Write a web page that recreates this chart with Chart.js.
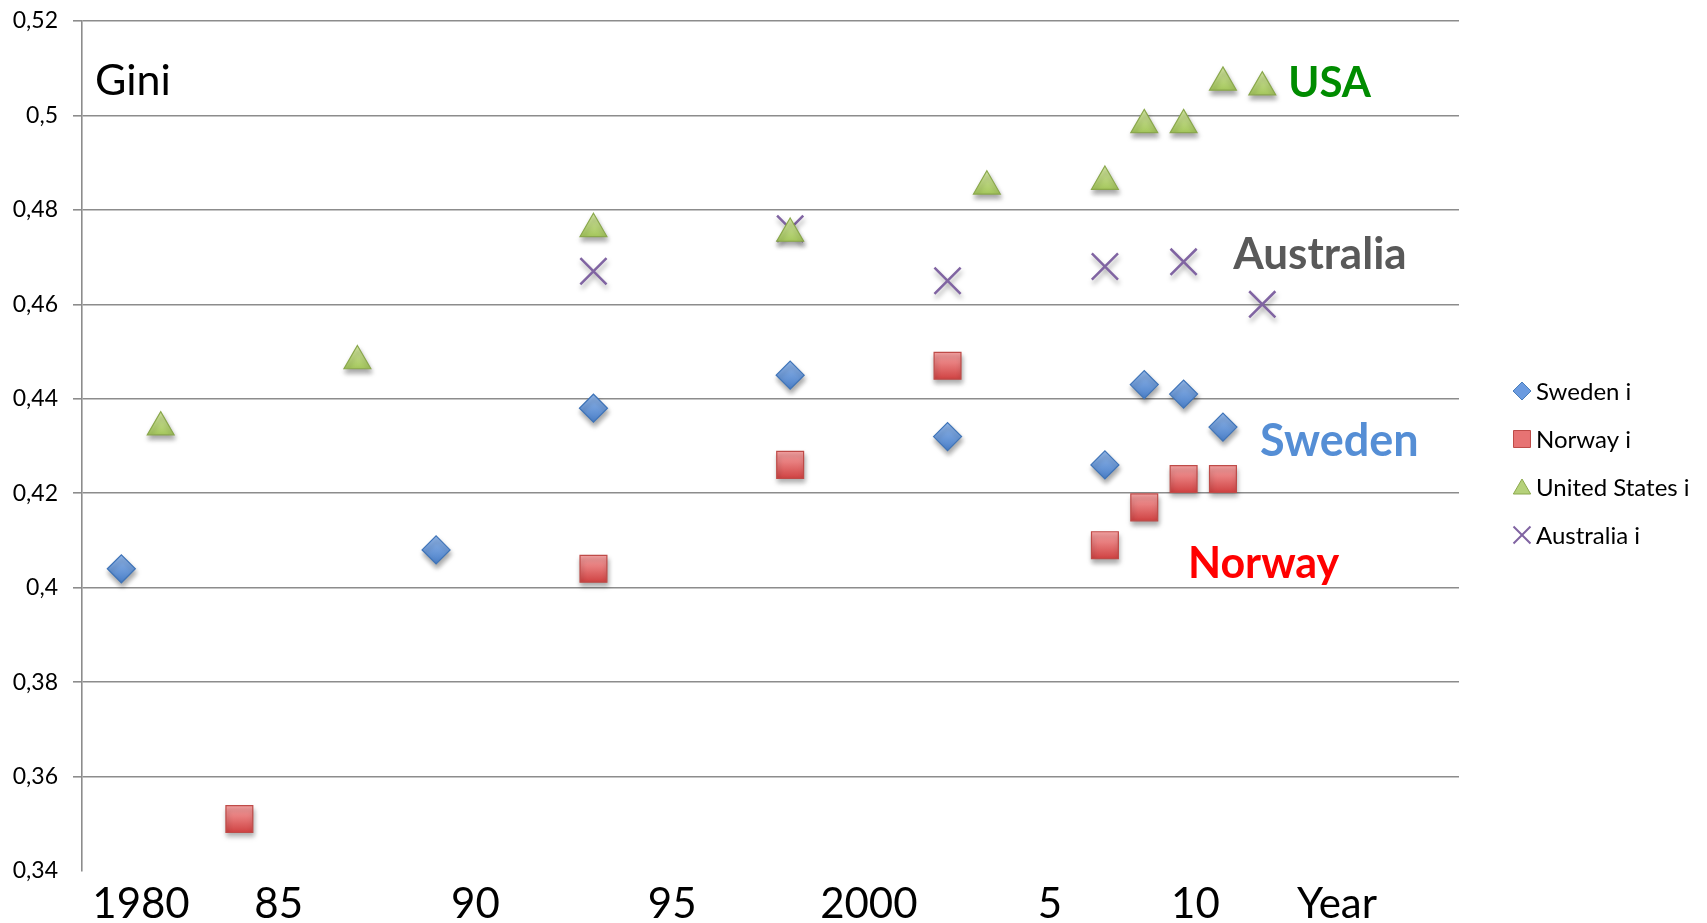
<!DOCTYPE html>
<html>
<head>
<meta charset="utf-8">
<title>Gini</title>
<script src="https://cdn.jsdelivr.net/npm/chart.js@4.4.1/dist/chart.umd.min.js"></script>
<style>
  html, body { margin: 0; padding: 0; background: #fff; }
  #wrap { width: 1707px; height: 923px; }
</style>
</head>
<body>
<div id="wrap"><canvas id="gini"></canvas></div>
<script>
// values
const swedenYears = [1981, 1989, 1993, 1998, 2002, 2006, 2007, 2008, 2009];
const swedenGini = [0.404, 0.408, 0.438, 0.445, 0.432, 0.426, 0.443, 0.441, 0.434];
const norwayYears = [1984, 1993, 1998, 2002, 2006, 2007, 2008, 2009];
const norwayGini = [0.351, 0.404, 0.426, 0.447, 0.409, 0.417, 0.423, 0.423];
const usaYears = [1982, 1987, 1993, 1998, 2003, 2006, 2007, 2008, 2009, 2010];
const usaGini = [0.434, 0.448, 0.476, 0.475, 0.485, 0.486, 0.498, 0.498, 0.507, 0.506];
const australiaYears = [1993, 1998, 2002, 2006, 2008, 2010];
const australiaGini = [0.467, 0.476, 0.465, 0.468, 0.469, 0.460];

const seriesNames = ['Sweden i', 'Norway i', 'United States i', 'Australia i'];

// x labels sit where the original text was put, not exactly on the years
const xTickYears = [1981.5, 1985, 1990, 1995, 2000, 2004.6, 2008.3, 2011.9];
const xTickLabels = ['1980', '85', '90', '95', '2000', '5', '10', 'Year'];
const yTickValues = [0.34, 0.36, 0.38, 0.40, 0.42, 0.44, 0.46, 0.48, 0.50, 0.52];
const yTickLabels = ['0,34', '0,36', '0,38', '0,4', '0,42', '0,44', '0,46', '0,48', '0,5', '0,52'];

Chart.defaults.font.family = 'Lato';
Chart.defaults.color = '#000';

function toPoints(xs, ys) {
  return xs.map((x, i) => ({ x: x, y: ys[i] }));
}

function markerFill(top, bottom, radius) {
  return function (ctx) {
    if (ctx.type !== 'data' || !ctx.parsed || !ctx.chart.scales.y) return bottom;
    const y = ctx.chart.scales.y.getPixelForValue(ctx.parsed.y);
    if (!isFinite(y)) return bottom;
    const g = ctx.chart.ctx.createLinearGradient(0, y - radius, 0, y + radius);
    g.addColorStop(0, top);
    g.addColorStop(1, bottom);
    return g;
  };
}

const annotations = [
  { text: 'Gini', x: 1980.33, y: 0.5043, color: '#000', font: '43px Lato' },
  { text: 'USA', x: 2010.66, y: 0.5039, color: '#008c00', font: 'bold 42px Lato' },
  { text: 'Australia', x: 2009.26, y: 0.4674, color: '#595959', font: 'bold 44px Lato' },
  { text: 'Sweden', x: 2009.94, y: 0.4278, color: '#558ed5', font: 'bold 45px Lato' },
  { text: 'Norway', x: 2008.11, y: 0.4020, color: '#ff0000', font: 'bold 43px Lato' }
];

const shadowPlugin = {
  id: 'shadow',
  beforeDatasetsDraw(chart) {
    const ctx = chart.ctx;
    ctx.save();
    ctx.shadowColor = 'rgba(0,0,0,0.35)';
    ctx.shadowBlur = 5;
    ctx.shadowOffsetX = 1;
    ctx.shadowOffsetY = 4;
  },
  afterDatasetsDraw(chart) {
    chart.ctx.restore();
  }
};

const textPlugin = {
  id: 'texts',
  afterDraw(chart) {
    const ctx = chart.ctx;
    const xs = chart.scales.x, ys = chart.scales.y;
    ctx.save();
    ctx.textAlign = 'left';
    ctx.textBaseline = 'alphabetic';
    annotations.forEach(a => {
      ctx.font = a.font;
      ctx.fillStyle = a.color;
      ctx.fillText(a.text, xs.getPixelForValue(a.x), ys.getPixelForValue(a.y));
    });

    // legend on the right
    const legendStyles = [
      { pointStyle: 'rectRot', radius: 9, fill: '#6b9be0', stroke: '#4a7ebb' },
      { pointStyle: 'rect', radius: 12, fill: '#e77373', stroke: '#be4b48' },
      { pointStyle: 'triangle', radius: 10, fill: '#b5d17a', stroke: '#8aa84c' },
      { pointStyle: 'crossRot', radius: 12, fill: 'transparent', stroke: '#8064a2' }
    ];
    ctx.font = '24px Lato';
    ctx.textBaseline = 'middle';
    seriesNames.forEach((name, i) => {
      const y = 391 + i * 48;
      const st = legendStyles[i];
      ctx.fillStyle = st.fill;
      ctx.strokeStyle = st.stroke;
      ctx.lineWidth = st.pointStyle === 'crossRot' ? 2 : 1;
      const py = st.pointStyle === 'triangle' ? y + 2 : y;
      Chart.helpers.drawPoint(ctx, { pointStyle: st.pointStyle, radius: st.radius, rotation: 0, borderWidth: ctx.lineWidth }, 1522, py);
      ctx.fillStyle = '#000';
      ctx.fillText(name, 1536, y + 1);
    });
    ctx.restore();
  }
};

new Chart(document.getElementById('gini'), {
  type: 'scatter',
  data: {
    datasets: [
      {
        label: seriesNames[0],
        data: toPoints(swedenYears, swedenGini),
        pointStyle: 'rectRot',
        pointRadius: 14,
        backgroundColor: markerFill('#94b9ec', '#4a7fc8', 14),
        borderColor: '#3f74b8',
        borderWidth: 1.2
      },
      {
        label: seriesNames[1],
        data: toPoints(norwayYears, norwayGini),
        pointStyle: 'rect',
        pointRadius: 19,
        backgroundColor: markerFill('#f7a3a3', '#d04444', 13),
        borderColor: '#be4b48',
        borderWidth: 1.2
      },
      {
        label: seriesNames[2],
        data: toPoints(usaYears, usaGini),
        pointStyle: 'triangle',
        pointRadius: 15.5,
        backgroundColor: markerFill('#d6e9a4', '#95bc46', 15),
        borderColor: '#8aa84c',
        borderWidth: 1.2
      },
      {
        label: seriesNames[3],
        data: toPoints(australiaYears, australiaGini),
        pointStyle: 'crossRot',
        pointRadius: 18.5,
        backgroundColor: 'transparent',
        borderColor: '#8064a2',
        borderWidth: 2.5
      }
    ]
  },
  options: {
    responsive: true,
    maintainAspectRatio: false,
    animation: false,
    devicePixelRatio: 1,
    layout: { padding: { top: 19, right: 248, bottom: 0, left: 0 } },
    plugins: {
      legend: { display: false },
      tooltip: { enabled: false }
    },
    scales: {
      x: {
        type: 'linear',
        min: 1980,
        max: 2015,
        grid: { display: false, drawTicks: false },
        border: { display: false },
        afterBuildTicks: (scale) => { scale.ticks = xTickYears.map(v => ({ value: v })); },
        afterFit: (scale) => {
          scale.height = 52;
          scale.paddingLeft = 0;
          scale.paddingRight = 0;
        },
        ticks: {
          autoSkip: false,
          maxRotation: 0,
          padding: 8,
          color: '#000',
          font: { size: 42, family: 'Lato' },
          callback: (value, index) => xTickLabels[index]
        }
      },
      y: {
        min: 0.34,
        max: 0.52,
        afterBuildTicks: (scale) => { scale.ticks = yTickValues.map(v => ({ value: v })); },
        afterFit: (scale) => {
          scale.width = 82;
          scale.paddingTop = 0;
          scale.paddingBottom = 0;
        },
        grid: {
          color: (c) => (c.tick && Math.abs(c.tick.value - 0.34) < 1e-6) ? 'rgba(0,0,0,0)' : '#8c8c8c',
          lineWidth: 1.6,
          tickLength: 9
        },
        border: { color: '#8c8c8c', width: 1.6 },
        ticks: {
          padding: 15,
          color: '#000',
          font: { size: 23, family: 'Lato' },
          callback: (value, index) => yTickLabels[index]
        }
      }
    }
  },
  plugins: [shadowPlugin, textPlugin]
});
</script>
</body>
</html>
